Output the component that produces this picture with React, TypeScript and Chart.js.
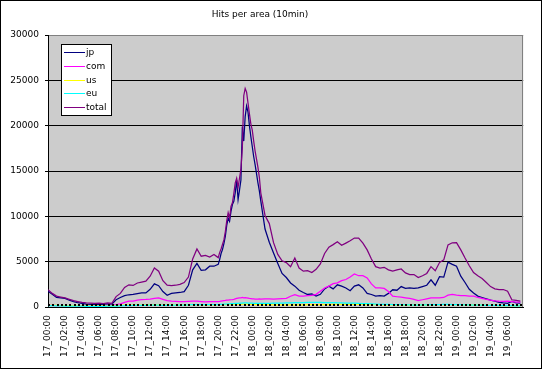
import { useEffect, useRef } from 'react';
import { Chart, registerables } from 'chart.js';

Chart.register(...registerables);

const titleText = 'Hits per area (10min)';

const tickLabels = [
  '17_00:00', '17_02:00', '17_04:00', '17_06:00', '17_08:00', '17_10:00', '17_12:00',
  '17_14:00', '17_16:00', '17_18:00', '17_20:00', '17_22:00',
  '18_00:00', '18_02:00', '18_04:00', '18_06:00', '18_08:00', '18_10:00', '18_12:00',
  '18_14:00', '18_16:00', '18_18:00', '18_20:00', '18_22:00',
  '19_00:00', '19_02:00', '19_04:00', '19_06:00',
];

// sample position, in 10-minute steps from 17_00:00
const sampleIdx = [
  0, 3, 6, 9, 12, 15, 18, 21, 24, 27, 30, 33, 36, 39, 42, 45, 48, 51, 54, 57,
  60, 63, 66, 69, 72, 75, 78, 81, 84, 87, 90, 93, 96, 99, 102, 105, 108, 111, 114, 117,
  120, 121, 122, 123, 124, 125, 126, 127, 128, 129, 130, 131, 132, 133, 134, 135,
  136, 137, 138, 139, 140, 141, 142, 143, 144, 145, 146, 147, 148, 149, 150,
  153, 156, 159, 162, 165, 168, 171, 174, 177, 180, 183, 186, 189, 192, 195, 198,
  201, 204, 207, 210, 213, 216, 219, 222, 225, 228, 231, 234, 237, 240, 243, 246,
  249, 252, 255, 258, 261, 264, 267, 270, 273, 276, 279, 282, 285, 288, 291, 294,
  297, 300, 303, 306, 309, 312, 315, 318, 321, 324, 327, 330, 333,
];

const jp = [
  1750, 1400, 1050, 1000, 950, 750, 600, 470, 400, 320, 300, 300, 330, 300, 350, 320, 800, 1050, 1250, 1350,
  1400, 1480, 1550, 1560, 1950, 2550, 2350, 1700, 1300, 1500, 1550, 1600, 1700, 2400, 4100, 4800, 4050, 4100, 4500, 4500,
  4700, 5230, 5900, 6330, 7000, 7800, 9000, 9800, 9450, 10550, 11300, 11650, 12600, 14000, 11850, 12900,
  14000, 19900, 18300, 21000, 22180, 21500, 20000, 18800, 17700, 16600, 15700, 14700, 13700, 12800, 11700,
  8600, 7150, 5950, 4800, 3700, 3250, 2650, 2300, 1850, 1600, 1380, 1450, 1200, 1400, 2000, 2300,
  2000, 2450, 2300, 2100, 1800, 2300, 2450, 2100, 1500, 1380, 1200, 1250, 1200, 1500, 1900, 1850,
  2250, 2050, 2100, 2050, 2100, 2250, 2400, 3000, 2400, 3350, 3300, 4950, 4700, 4500, 3400, 2700,
  1950, 1550, 1200, 1050, 900, 760, 650, 520, 450, 400, 620, 450, 420,
];

const com = [
  180, 170, 160, 150, 150, 140, 140, 130, 130, 130, 140, 150, 150, 160, 170, 180, 250, 350, 500, 650,
  650, 750, 800, 830, 880, 950, 1000, 850, 700, 650, 620, 600, 600, 620, 650, 640, 600, 560, 580, 600,
  600, 620, 650, 680, 700, 720, 750, 760, 780, 800, 820, 850, 900, 950, 980, 1000,
  1010, 1050, 1000, 1020, 1000, 980, 950, 930, 900, 900, 880, 880, 870, 900, 880,
  900, 900, 880, 900, 920, 950, 1190, 1350, 1200, 1200, 1250, 1280, 1400, 1750, 2100, 2300,
  2580, 2660, 2900, 3030, 3300, 3650, 3450, 3450, 3200, 2550, 2100, 2100, 2050, 1700, 1190, 1130,
  1080, 1010, 950, 850, 700, 800, 900, 1000, 1010, 1020, 1050, 1300, 1380, 1300, 1250, 1250,
  1200, 1190, 1050, 950, 850, 750, 680, 640, 620, 640, 580, 530, 530,
];

const us = [
  200, 180, 170, 160, 150, 150, 140, 140, 130, 130, 120, 120, 130, 120, 130, 130, 150, 180, 200, 200,
  210, 220, 220, 230, 240, 240, 230, 220, 210, 200, 200, 210, 220, 230, 250, 250, 240, 230, 230, 240,
  250, 250, 260, 260, 270, 270, 280, 280, 280, 290, 290, 300, 300, 300, 310, 310,
  300, 310, 320, 320, 310, 300, 300, 290, 290, 280, 280, 270, 270, 260, 260,
  250, 250, 240, 240, 240, 230, 230, 230, 240, 240, 250, 250, 260, 260, 270, 270,
  280, 280, 290, 290, 300, 300, 290, 280, 270, 260, 250, 250, 240, 240, 230, 230,
  220, 220, 210, 210, 220, 220, 230, 240, 250, 260, 260, 270, 270, 260, 250, 240,
  230, 220, 210, 200, 190, 180, 170, 160, 150, 150, 140, 140, 130,
];

const eu = [
  150, 140, 130, 120, 110, 100, 100, 90, 90, 80, 80, 80, 80, 80, 90, 90, 110, 130, 150, 160,
  170, 180, 180, 190, 200, 210, 200, 190, 190, 190, 200, 210, 220, 230, 250, 260, 260, 250, 250, 260,
  270, 280, 290, 300, 310, 320, 330, 340, 350, 360, 370, 380, 390, 400, 410, 420,
  430, 440, 450, 460, 450, 440, 430, 420, 420, 410, 410, 400, 400, 400, 400,
  400, 410, 420, 430, 440, 450, 460, 470, 480, 490, 500, 500, 510, 500, 490, 480,
  470, 460, 450, 440, 430, 420, 400, 380, 360, 340, 320, 300, 290, 280, 270, 260,
  250, 240, 230, 220, 220, 230, 240, 250, 260, 270, 280, 280, 270, 260, 250, 240,
  230, 220, 210, 200, 190, 180, 170, 160, 150, 140, 140, 130, 120,
];

const total = [
  1900, 1500, 1200, 1100, 1000, 850, 700, 600, 500, 450, 420, 400, 420, 380, 450, 400, 1150, 1500, 2150, 2450,
  2380, 2650, 2750, 2850, 3400, 4300, 3950, 2900, 2400, 2350, 2400, 2500, 2700, 3300, 5300, 6400, 5600, 5700, 5500, 5800,
  5450, 6000, 6400, 6900, 7400, 8300, 9500, 10400, 9800, 11100, 11500, 12500, 13700, 14200, 13200, 14200,
  15200, 17500, 23300, 24100, 23700, 22500, 21300, 20200, 19500, 18300, 17200, 16300, 15400, 14300, 12600,
  10100, 9200, 7100, 5800, 5100, 4900, 4450, 5400, 4300, 3950, 4000, 3800, 4150, 4750, 5900, 6600,
  6880, 7200, 6800, 7050, 7300, 7600, 7600, 7050, 6300, 5300, 4450, 4300, 4380, 4100, 3950, 4100,
  4200, 3760, 3580, 3580, 3250, 3450, 3700, 4450, 4000, 4900, 5200, 6850, 7080, 7100, 6300, 5400,
  4550, 3800, 3450, 3150, 2700, 2250, 2000, 1930, 1930, 1750, 800, 720, 650,
];

const seriesNames = ['jp', 'com', 'us', 'eu', 'total'];
const seriesColors = ['#000080', '#FF00FF', '#FFFF00', '#00FFFF', '#800080'];

const FONT = '"DejaVu Sans", sans-serif';
const PLOT_BG = '#CCCCCC';

const framePlugin = {
  id: 'frame',
  beforeDraw(chart: any) {
    const { ctx, chartArea: ca, width, height } = chart;
    ctx.save();
    ctx.fillStyle = '#FFFFFF';
    ctx.fillRect(0, 0, width, height);
    ctx.fillStyle = PLOT_BG;
    ctx.fillRect(ca.left, ca.top, ca.right - ca.left, ca.bottom - ca.top);
    ctx.strokeStyle = '#000';
    ctx.lineWidth = 1;
    ctx.strokeRect(0.5, 0.5, width - 1, height - 1);
    ctx.fillStyle = '#000';
    ctx.font = '9px ' + FONT;
    ctx.textAlign = 'center';
    ctx.textBaseline = 'middle';
    ctx.fillText(titleText, 260, 15);
    ctx.restore();
  },
  beforeDatasetsDraw(chart: any) {
    const { ctx, chartArea: ca } = chart;
    ctx.save();
    ctx.strokeStyle = '#808080';
    ctx.lineWidth = 1;
    ctx.beginPath();
    ctx.moveTo(Math.round(ca.right) - 0.5, ca.top);
    ctx.lineTo(Math.round(ca.right) - 0.5, ca.bottom);
    ctx.stroke();
    ctx.restore();
  },
  afterDatasetsDraw(chart: any) {
    const { ctx, chartArea: ca, scales } = chart;
    const xs = scales.x;
    ctx.save();
    ctx.fillStyle = '#000';
    for (let i = 0; i <= xs.max; i += 3) {
      const px = Math.round(xs.getPixelForValue(i));
      ctx.fillRect(px, Math.round(ca.bottom) - 3, 2, 2);
    }
    ctx.restore();
  },
};

const legendPlugin = {
  id: 'boxLegend',
  afterDraw(chart: any) {
    const { ctx, chartArea: ca } = chart;
    const datasets = chart.data.datasets;
    ctx.save();
    ctx.font = '9px ' + FONT;
    let textW = 0;
    datasets.forEach((d: any) => {
      textW = Math.max(textW, ctx.measureText(d.label).width);
    });
    const x0 = Math.round(ca.left) + 13;
    const y0 = Math.round(ca.top) + 9;
    const rowH = 13.75;
    const w = Math.round(26 + textW + 3);
    const h = Math.round(datasets.length * rowH + 2);
    ctx.fillStyle = '#FFFFFF';
    ctx.fillRect(x0, y0, w, h);
    ctx.strokeStyle = '#000';
    ctx.lineWidth = 1;
    ctx.strokeRect(x0 + 0.5, y0 + 0.5, w, h);
    datasets.forEach((d: any, k: number) => {
      const cy = Math.round(y0 + 8 + k * rowH) + 0.5;
      ctx.strokeStyle = d.borderColor;
      ctx.beginPath();
      ctx.moveTo(x0 + 3, cy);
      ctx.lineTo(x0 + 24, cy);
      ctx.stroke();
      ctx.fillStyle = '#000';
      ctx.textAlign = 'left';
      ctx.textBaseline = 'middle';
      ctx.fillText(d.label, x0 + 25, cy);
    });
    ctx.restore();
  },
};

export default function App() {
  const ref = useRef<HTMLCanvasElement>(null);

  useEffect(() => {
    const series = [jp, com, us, eu, total];
    const chart = new Chart(ref.current as HTMLCanvasElement, {
      type: 'line',
      data: {
        datasets: series.map((vals, s) => ({
          label: seriesNames[s],
          data: sampleIdx.map((x, k) => ({ x, y: vals[k] })),
          borderColor: seriesColors[s],
          backgroundColor: seriesColors[s],
          borderWidth: 1.25,
          pointRadius: 0,
          tension: 0,
          fill: false,
          order: series.length - s,
        })),
      },
      options: {
        responsive: false,
        animation: false,
        events: [],
        layout: { padding: { left: 0, right: 13, top: 35, bottom: 0 } },
        plugins: {
          legend: { display: false },
          title: { display: false },
          tooltip: { enabled: false },
        },
        scales: {
          x: {
            type: 'linear',
            min: 0,
            max: 335,
            bounds: 'data',
            grid: { display: true, drawOnChartArea: false, drawTicks: false },
            border: { display: true, color: '#000', width: 1 },
            ticks: {
              stepSize: 12,
              includeBounds: false,
              autoSkip: false,
              maxRotation: 90,
              minRotation: 90,
              padding: 8,
              color: '#000',
              font: { family: FONT, size: 9 },
              callback: (v: any) => {
                const k = Number(v) / 12;
                return Number.isInteger(k) && k < tickLabels.length ? tickLabels[k] : '';
              },
            },
            afterFit: (s: any) => {
              s.height = 62;
            },
          },
          y: {
            min: 0,
            max: 30000,
            grid: {
              color: (c: any) => (c.tick && c.tick.value === 30000 ? '#808080' : '#000'),
              tickColor: '#000',
              tickLength: 3,
              lineWidth: 1,
            },
            border: { display: true, color: '#000', width: 1 },
            ticks: {
              stepSize: 5000,
              padding: 6,
              color: '#000',
              font: { family: FONT, size: 9 },
              callback: (v: any) => String(v),
            },
            afterFit: (s: any) => {
              s.width = 48;
            },
          },
        },
      } as any,
      plugins: [framePlugin, legendPlugin],
    });
    return () => chart.destroy();
  }, []);

  return (
    <div style={{ position: 'absolute', left: 0, top: 0, width: 542, height: 369 }}>
      <canvas ref={ref} width={542} height={369} style={{ display: 'block' }} />
    </div>
  );
}
